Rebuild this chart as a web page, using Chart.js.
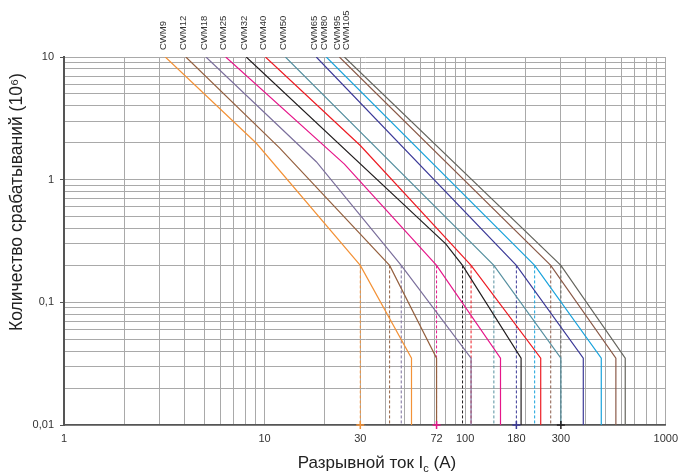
<!DOCTYPE html>
<html>
<head>
<meta charset="utf-8">
<script src="https://cdn.jsdelivr.net/npm/chart.js@4.4.1/dist/chart.umd.min.js"></script>
<style>
  html, body { margin: 0; padding: 0; background: #fff; }
  #wrap { width: 680px; height: 476px; }
</style>
</head>
<body>
<div id="wrap"><canvas id="durability"></canvas></div>
<script>
// contactor models and line colours
const models = ["CWM9", "CWM12", "CWM18", "CWM25", "CWM32", "CWM40", "CWM50", "CWM65", "CWM80", "CWM95", "CWM105"];
const colors = ["#f39237", "#94603f", "#7b6f9c", "#e6168a", "#231f20", "#ed1c24", "#5790a0", "#3c3a98", "#1aa3dc", "#8a5a48", "#65655e"];

// current (A) where each curve leaves the 10 million operations line
const startA = [3.2, 4.05, 5.1, 6.4, 8.1, 10.1, 12.7, 18.1, 20.3, 23.6, 25];
// intermediate bend of the upper part (null = straight)
const bendA = [9.1, 11.9, 18.1, 25, 80, 30, null, null, null, null, null];
const bendOps = [1.98, 1.81, 1.4, 1.34, 0.3, 1.9, null, null, null, null, null];
// knee at 0.2 million operations (dotted drop lines)
const kneeA = [30, 42, 48, 72, 97, 107, 139, 180, 222, 267, 300];
// current where the curve turns vertical
const endA = [54, 72, 107, 150, 190, 238, 300, 388, 477, 564, 628];

const topOps = 10;
const kneeOps = 0.2;
const endOps = 0.035;
const floorOps = 0.01;

// axis labels
const xLabels = [1, 10, 30, 72, 100, 180, 300, 1000];
const xExtra = [72, 180]; // labelled but no grid line
const yLabels = [0.01, 0.1, 1, 10];
const xMarks = [30, 72, 180, 300];
const markColors = ["#f39237", "#e6168a", "#3c3a98", "#231f20"];

const gridColor = "#a9a9a9";
const axisColor = "#555";

const decadeTicks = (fromExp, toExp) => {
  const t = [];
  for (let e = fromExp; e < toExp; e++) {
    for (let m = 1; m <= 9; m++) t.push(parseFloat(m + "e" + e));
  }
  t.push(parseFloat("1e" + toExp));
  return t;
};

const curveSets = models.map((name, i) => {
  const pts = [{ x: startA[i], y: topOps }];
  if (bendA[i] !== null) pts.push({ x: bendA[i], y: bendOps[i] });
  pts.push({ x: kneeA[i], y: kneeOps });
  pts.push({ x: endA[i], y: endOps });
  pts.push({ x: endA[i], y: floorOps });
  return {
    label: name,
    data: pts,
    borderColor: colors[i],
    borderWidth: 1.2,
    pointRadius: 0,
    tension: 0,
    order: 1,
  };
});

const dropSets = models.map((name, i) => ({
  label: name + " drop",
  data: [
    { x: kneeA[i], y: kneeOps },
    { x: kneeA[i], y: floorOps },
  ],
  borderColor: colors[i],
  borderWidth: 1,
  borderDash: [3, 2],
  pointRadius: 0,
  order: 2,
}));

const markSet = {
  label: "marks",
  data: xMarks.map((v) => ({ x: v, y: floorOps })),
  showLine: false,
  pointStyle: "cross",
  pointRadius: 4,
  pointBorderWidth: 1.5,
  pointBorderColor: markColors,
  borderColor: "transparent",
  clip: false,
  order: 0,
};

// model names above the plot, axis titles
const annotate = {
  id: "annotate",
  afterDraw(chart) {
    const { ctx, chartArea, scales } = chart;
    const x = scales.x;
    ctx.save();
    ctx.fillStyle = "#333";
    ctx.font = '9.5px "Liberation Sans", Arial, sans-serif';
    ctx.textAlign = "left";
    ctx.textBaseline = "middle";
    let prev = -Infinity;
    models.forEach((name, i) => {
      const px = Math.max(x.getPixelForValue(startA[i]) - 2, prev + 9);
      prev = px;
      ctx.save();
      ctx.translate(px, chartArea.top - 7);
      ctx.rotate(-Math.PI / 2);
      ctx.fillText(name, 0, 0);
      ctx.restore();
    });

    // y title
    ctx.fillStyle = "#222";
    ctx.font = '17.5px "Liberation Sans", Arial, sans-serif';
    ctx.textAlign = "center";
    ctx.save();
    ctx.translate(17, 202);
    ctx.rotate(-Math.PI / 2);
    ctx.fillText("Количество срабатываний (10⁶)", 0, 0);
    ctx.restore();

    // x title with subscript
    const main = "Разрывной ток I";
    const sub = "c";
    const tail = " (A)";
    const big = '17px "Liberation Sans", Arial, sans-serif';
    const small = '11px "Liberation Sans", Arial, sans-serif';
    ctx.font = big;
    const w1 = ctx.measureText(main).width;
    const w3 = ctx.measureText(tail).width;
    ctx.font = small;
    const w2 = ctx.measureText(sub).width;
    let cx = 377 - (w1 + w2 + w3) / 2;
    const cy = 463;
    ctx.textAlign = "left";
    ctx.font = big;
    ctx.fillText(main, cx, cy);
    cx += w1;
    ctx.font = small;
    ctx.fillText(sub, cx, cy + 6);
    cx += w2;
    ctx.font = big;
    ctx.fillText(tail, cx, cy);
    ctx.restore();
  },
};

new Chart(document.getElementById("durability"), {
  type: "line",
  data: { datasets: [...curveSets, ...dropSets, markSet] },
  plugins: [annotate],
  options: {
    responsive: true,
    maintainAspectRatio: false,
    animation: false,
    layout: { padding: { top: 57, right: 13, left: 0, bottom: 0 } },
    plugins: {
      legend: { display: false },
      tooltip: { enabled: false },
    },
    scales: {
      x: {
        type: "logarithmic",
        min: 1,
        max: 1000,
        afterBuildTicks: (scale) => {
          const vals = decadeTicks(0, 3).concat(xExtra).sort((a, b) => a - b);
          scale.ticks = vals.map((v) => ({ value: v }));
        },
        afterFit: (scale) => {
          scale.height = 51;
        },
        grid: {
          color: (c) => (c.tick && xExtra.includes(c.tick.value) ? "rgba(0,0,0,0)" : gridColor),
          tickColor: "rgba(0,0,0,0)",
          tickLength: 5,
        },
        border: { color: axisColor, width: 1.5 },
        ticks: {
          autoSkip: false,
          maxRotation: 0,
          padding: 2,
          color: "#333",
          font: { family: '"Liberation Sans", Arial, sans-serif', size: 11 },
          callback: (v) => (xLabels.includes(v) ? String(v) : ""),
        },
      },
      y: {
        type: "logarithmic",
        min: 0.01,
        max: 10,
        afterBuildTicks: (scale) => {
          scale.ticks = decadeTicks(-2, 1).map((v) => ({ value: v }));
        },
        afterFit: (scale) => {
          scale.width = 64;
        },
        grid: {
          color: gridColor,
          tickColor: (c) => (c.tick && yLabels.includes(c.tick.value) ? axisColor : "rgba(0,0,0,0)"),
          tickLength: 4,
        },
        border: { color: axisColor, width: 2 },
        ticks: {
          autoSkip: false,
          padding: 6,
          color: "#333",
          font: { family: '"Liberation Sans", Arial, sans-serif', size: 11 },
          callback: (v) => (yLabels.includes(v) ? String(v).replace(".", ",") : ""),
        },
      },
    },
  },
});
</script>
</body>
</html>
